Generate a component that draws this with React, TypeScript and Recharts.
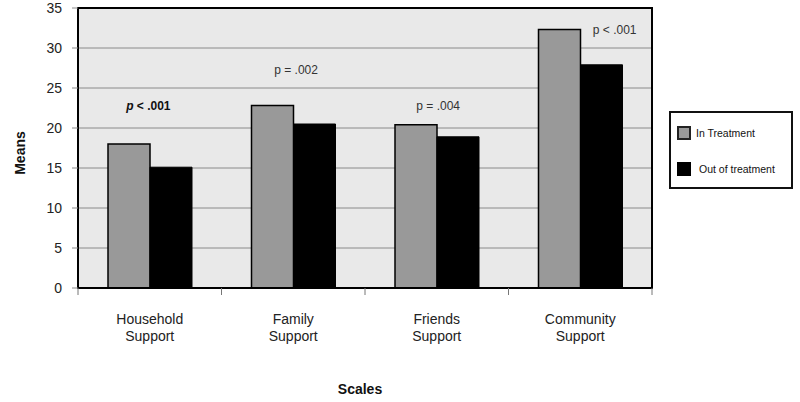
import React from 'react';
import { BarChart, Bar, XAxis, YAxis, CartesianGrid, ReferenceDot, ReferenceArea, Label } from 'recharts';

const categories = ['Household Support', 'Family Support', 'Friends Support', 'Community Support'];
const inTreatment = [18.0, 22.8, 20.4, 32.3];
const outOfTreatment = [15.1, 20.5, 18.9, 27.9];
const yTicks = [0, 5, 10, 15, 20, 25, 30, 35];
const seriesNames = ['In Treatment', 'Out of treatment'];
const seriesColors = ['#999999', '#000000'];
const annotationPos = [0.49, 1.52, 2.51, 3.74];
const annotationY = [22.75, 27.25, 22.75, 32.25];
const annotationText = ['p < .001', 'p = .002', 'p = .004', 'p < .001'];
const annotationBold = [true, false, false, false];

const data = categories.map((c, i) => ({ category: c, slot: i + 0.5, inT: inTreatment[i], outT: outOfTreatment[i] }));
const annotations = annotationText.map((t, i) => ({ x: annotationPos[i], y: annotationY[i], text: t, bold: annotationBold[i] }));

const FONT = '"Liberation Sans", Arial, Helvetica, sans-serif';

const CategoryTick = (props: any) => {
  const { x, y, payload, index } = props;
  const half = payload && typeof payload.offset === 'number' && payload.offset > 0 ? payload.offset : 71.75;
  const words = String(payload.value).split(' ');
  return (
    <g>
      <line x1={x - half} x2={x - half} y1={y} y2={y + 7} stroke="#777" strokeWidth={1} />
      {index === categories.length - 1 && (
        <line x1={x + half} x2={x + half} y1={y} y2={y + 7} stroke="#777" strokeWidth={1} />
      )}
      <text x={x} y={y + 36} textAnchor="middle" fontSize={14} fill="#222" fontFamily={FONT}>
        <tspan x={x}>{words[0]}</tspan>
        <tspan x={x} dy={17}>{words[1]}</tspan>
      </text>
    </g>
  );
};

const AnnotationLabel = (text: string, bold: boolean) => (props: any) => {
  const vb = props.viewBox || {};
  const cx = (vb.x ?? 0) + (vb.width ?? 0) / 2;
  const cy = (vb.y ?? 0) + (vb.height ?? 0) / 2;
  if (bold) {
    const rest = text.slice(1);
    return (
      <text x={cx} y={cy} dy={4} textAnchor="middle" fontSize={12} fontWeight="bold" fill="#111" fontFamily={FONT}>
        <tspan fontStyle="italic">p</tspan>
        <tspan>{rest}</tspan>
      </text>
    );
  }
  return (
    <text x={cx} y={cy} dy={4} textAnchor="middle" fontSize={12} fill="#333" fontFamily={FONT}>
      {text}
    </text>
  );
};

export default function App() {
  return (
    <div style={{ position: 'absolute', left: 0, top: 0, width: 800, height: 402, background: '#fff', fontFamily: FONT }}>
      <BarChart
        width={800}
        height={402}
        data={data}
        margin={{ top: 8, right: 148, bottom: 0, left: 0 }}
        barSize={42}
        barGap={0}
        style={{ fontFamily: FONT }}
      >
        <CartesianGrid vertical={false} fill="#e9e9e9" stroke="#8a8a8a" strokeWidth={1} />
        <XAxis
          dataKey="category"
          height={114}
          tickLine={false}
          tickSize={0}
          tickMargin={0}
          axisLine={{ stroke: '#000', strokeWidth: 2 }}
          tick={<CategoryTick />}
          interval={0}
        >
          <Label
            content={(p: any) => {
              const vb = p.viewBox || {};
              return (
                <text x={vb.x + vb.width / 2 - 5} y={394} textAnchor="middle" fontSize={14} fontWeight="bold" fill="#111" fontFamily={FONT}>
                  Scales
                </text>
              );
            }}
          />
        </XAxis>
        <XAxis
          xAxisId="ann"
          dataKey="slot"
          type="number"
          domain={[0, categories.length]}
          ticks={[0, 1, 2, 3, 4]}
          height={0}
          tick={false}
          tickLine={false}
          axisLine={false}
          allowDataOverflow
        />
        <YAxis
          width={78}
          domain={[0, 35]}
          ticks={yTicks}
          interval={0}
          tickSize={6}
          tickMargin={10}
          tickLine={{ stroke: '#8a8a8a' }}
          axisLine={{ stroke: '#000', strokeWidth: 2 }}
          tick={{ fontSize: 14, fill: '#222', fontFamily: FONT }}
        >
          <Label
            content={() => {
              const cy = 153;
              return (
                <text x={25} y={cy} transform={`rotate(-90 25 ${cy})`} textAnchor="middle" fontSize={14} fontWeight="bold" fill="#111" fontFamily={FONT}>
                  Means
                </text>
              );
            }}
          />
        </YAxis>
        <Bar dataKey="inT" name={seriesNames[0]} fill={seriesColors[0]} stroke="#000" strokeWidth={1.5} isAnimationActive={false} />
        <Bar dataKey="outT" name={seriesNames[1]} fill={seriesColors[1]} stroke="#000" strokeWidth={1} isAnimationActive={false} />
        <ReferenceArea xAxisId="ann" x1={0} x2={categories.length} y1={0} y2={35} fill="none" stroke="#000" strokeWidth={2} />
        {annotations.map((a, i) => (
          <ReferenceDot
            key={i}
            xAxisId="ann"
            x={a.x}
            y={a.y}
            r={0}
            fill="none"
            stroke="none"
            label={AnnotationLabel(a.text, a.bold)}
          />
        ))}
      </BarChart>
      <div
        style={{
          position: 'absolute',
          left: 669,
          top: 111,
          width: 124,
          height: 78,
          boxSizing: 'border-box',
          border: '2px solid #111',
          background: '#fff',
        }}
      >
        {seriesNames.map((n, i) => (
          <div key={n} style={{ position: 'absolute', left: 6, top: i === 0 ? 13 : 49, height: 14, display: 'flex', alignItems: 'center' }}>
            <div
              style={{
                width: 14,
                height: 14,
                boxSizing: 'border-box',
                background: seriesColors[i],
                border: i === 0 ? '2px solid #222' : 'none',
              }}
            />
            <span style={{ marginLeft: i === 0 ? 5 : 8, fontSize: 10.5, color: '#111', fontFamily: FONT, whiteSpace: 'nowrap' }}>{n}</span>
          </div>
        ))}
      </div>
    </div>
  );
}
